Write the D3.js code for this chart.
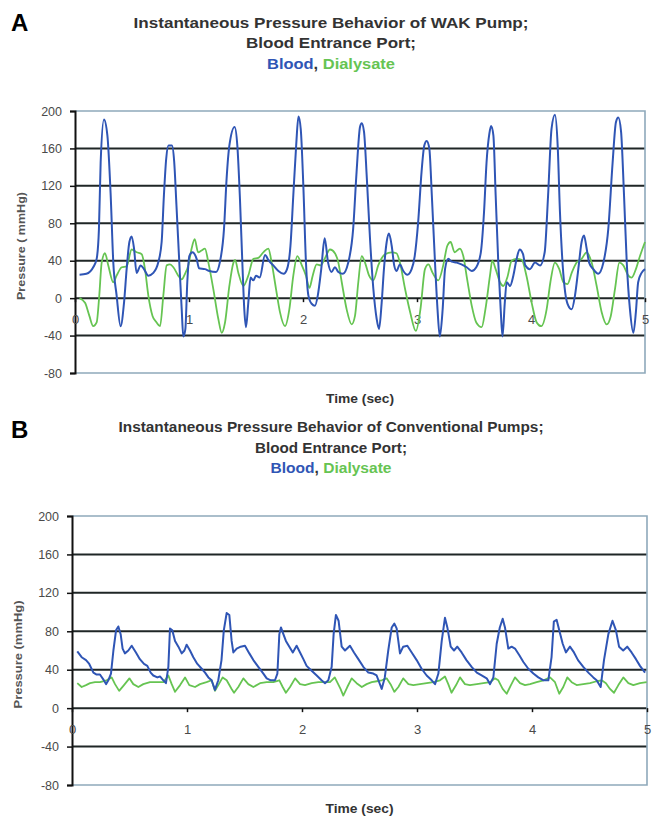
<!DOCTYPE html>
<html>
<head>
<meta charset="utf-8">
<script src="https://cdn.jsdelivr.net/npm/d3@7"></script>
<style>
  body { margin: 0; background: #fff; }
  svg { display: block; font-family: "Liberation Sans", Arial, sans-serif; }
</style>
</head>
<body>
<div id="chart"></div>
<script>
// Pressure traces as [time (s), pressure (mmHg)]
const wakBlood = [
  [0.04,25],[0.10,26],[0.16,33],[0.19,42],[0.21,74],[0.225,145],[0.254,191],[0.284,174],[0.313,110],[0.336,38],
  [0.365,3],[0.40,-30],[0.43,-5],[0.453,31],[0.477,60],[0.497,66],[0.518,53],[0.54,27],[0.576,35],[0.605,31],
  [0.643,24],[0.687,27],[0.73,38],[0.76,60],[0.78,110],[0.80,149],[0.82,163],[0.85,163],[0.87,146],[0.89,99],
  [0.915,38],[0.936,-12],[0.95,-41],[0.968,-33],[0.985,17],[1.003,45],[1.03,49],[1.067,42],[1.088,32],[1.14,31],
  [1.18,29],[1.237,28],[1.27,38],[1.307,74],[1.33,128],[1.354,163],[1.40,183],[1.424,163],[1.447,106],[1.47,31],
  [1.485,-12],[1.50,-31],[1.52,-5],[1.54,22],[1.564,19],[1.588,24],[1.62,22],[1.667,46],[1.70,40],[1.74,35],
  [1.784,29],[1.83,26],[1.86,31],[1.89,56],[1.915,110],[1.94,163],[1.96,194],[1.98,181],[2.003,120],[2.026,38],
  [2.047,3],[2.076,-6],[2.105,-8],[2.13,3],[2.16,31],[2.19,64],[2.22,38],[2.25,28],[2.28,33],[2.31,28],
  [2.35,26],[2.397,38],[2.44,74],[2.47,135],[2.50,183],[2.515,187],[2.535,178],[2.56,128],[2.588,63],[2.617,10],
  [2.646,-22],[2.667,-33],[2.69,-5],[2.71,31],[2.734,60],[2.754,69],[2.778,56],[2.80,35],[2.82,29],[2.85,36],
  [2.88,29],[2.915,25],[2.953,31],[2.98,45],[3.01,81],[3.04,135],[3.064,163],[3.085,168],[3.108,160],[3.13,110],
  [3.158,38],[3.18,-12],[3.20,-41],[3.225,-12],[3.246,31],[3.275,42],[3.304,39],[3.348,38],[3.39,36],[3.436,33],
  [3.48,29],[3.52,33],[3.56,49],[3.588,92],[3.61,145],[3.635,176],[3.65,184],[3.67,174],[3.69,110],[3.713,38],
  [3.734,-12],[3.75,-41],[3.77,-5],[3.787,17],[3.816,13],[3.845,24],[3.874,42],[3.90,52],[3.93,47],[3.95,35],
  [3.99,31],[4.035,38],[4.08,35],[4.12,49],[4.15,110],[4.18,181],[4.21,196],[4.234,163],[4.254,92],[4.278,35],
  [4.30,6],[4.327,-8],[4.357,-12],[4.386,3],[4.415,31],[4.444,60],[4.465,67],[4.488,53],[4.51,38],[4.546,31],
  [4.59,26],[4.635,38],[4.678,74],[4.716,145],[4.745,188],[4.766,193],[4.79,178],[4.816,110],[4.84,38],[4.868,-12],
  [4.898,-37],[4.92,-15],[4.94,17],[4.97,27],[5.0,31]
];

const wakDialysate = [
  [0.04,0],[0.088,-5],[0.126,-19],[0.16,-30],[0.19,-26],[0.213,3],[0.234,38],[0.263,48],[0.292,35],[0.336,17],
  [0.365,24],[0.41,33],[0.453,34],[0.497,52],[0.54,49],[0.585,47],[0.614,31],[0.643,3],[0.68,-19],[0.716,-26],
  [0.746,-30],[0.775,3],[0.804,35],[0.833,36],[0.863,33],[0.906,24],[0.936,20],[0.965,26],[0.994,35],[1.023,53],
  [1.05,63],[1.08,49],[1.11,51],[1.14,53],[1.17,38],[1.213,10],[1.257,-22],[1.287,-37],[1.316,-26],[1.354,13],
  [1.39,38],[1.404,41],[1.433,27],[1.477,13],[1.52,24],[1.565,42],[1.608,43],[1.652,49],[1.696,53],[1.725,38],
  [1.763,10],[1.798,-15],[1.842,-30],[1.88,-12],[1.915,24],[1.95,45],[1.99,35],[2.026,24],[2.056,11],[2.085,24],
  [2.12,36],[2.155,35],[2.19,42],[2.237,52],[2.28,48],[2.31,38],[2.34,17],[2.383,-12],[2.427,-28],[2.456,-19],
  [2.485,17],[2.515,45],[2.544,38],[2.58,24],[2.617,19],[2.66,35],[2.72,47],[2.778,49],[2.82,48],[2.85,38],
  [2.895,10],[2.94,-15],[2.99,-35],[3.03,-12],[3.07,31],[3.10,36],[3.137,27],[3.187,19],[3.23,35],[3.266,56],
  [3.295,60],[3.33,49],[3.376,53],[3.406,45],[3.44,20],[3.48,-8],[3.52,-26],[3.567,-31],[3.60,-12],[3.64,24],
  [3.66,40],[3.69,31],[3.728,17],[3.757,13],[3.792,22],[3.83,40],[3.874,42],[3.918,41],[3.96,24],[4.006,-5],
  [4.05,-26],[4.09,-30],[4.137,-12],[4.17,17],[4.21,38],[4.248,31],[4.284,17],[4.32,15],[4.357,27],[4.40,38],
  [4.444,42],[4.488,49],[4.532,38],[4.576,13],[4.62,-15],[4.664,-28],[4.70,-19],[4.737,10],[4.775,38],[4.81,35],
  [4.854,24],[4.883,22],[4.92,31],[4.956,45],[5.0,60]
];

const convBlood = [
  [0.046,59],[0.084,53],[0.122,50],[0.15,46],[0.186,37],[0.214,35],[0.243,35],[0.272,30],[0.296,25],[0.316,29],
  [0.339,36],[0.36,60],[0.383,81],[0.403,85],[0.423,77],[0.44,62],[0.46,57],[0.49,60],[0.519,65],[0.556,58],
  [0.59,51],[0.626,46],[0.655,44],[0.684,37],[0.707,34],[0.742,32],[0.765,33],[0.794,29],[0.817,26],[0.838,43],
  [0.852,83],[0.872,81],[0.896,70],[0.925,64],[0.954,57],[0.977,60],[0.997,66],[1.026,60],[1.055,53],[1.09,46],
  [1.128,41],[1.157,37],[1.186,32],[1.214,29],[1.243,19],[1.272,29],[1.30,50],[1.32,81],[1.345,99],[1.368,97],
  [1.388,70],[1.403,58],[1.432,62],[1.467,64],[1.504,65],[1.542,57],[1.577,50],[1.62,43],[1.664,36],[1.693,31],
  [1.728,29],[1.765,29],[1.786,36],[1.803,77],[1.817,84],[1.838,77],[1.86,70],[1.89,64],[1.92,58],[1.953,65],
  [1.983,58],[2.012,51],[2.04,44],[2.084,39],[2.128,34],[2.17,29],[2.20,26],[2.229,29],[2.258,43],[2.275,77],
  [2.295,97],[2.318,91],[2.345,64],[2.374,60],[2.417,65],[2.452,58],[2.49,51],[2.533,43],[2.577,37],[2.62,36],
  [2.649,34],[2.693,20],[2.72,32],[2.75,60],[2.78,84],[2.803,88],[2.823,83],[2.852,57],[2.88,64],[2.916,65],
  [2.954,58],[2.997,50],[3.04,41],[3.084,34],[3.128,29],[3.157,25],[3.186,36],[3.215,70],[3.243,94],[3.264,84],
  [3.293,64],[3.322,60],[3.35,64],[3.388,58],[3.43,50],[3.475,43],[3.52,37],[3.562,34],[3.606,31],[3.635,25],
  [3.664,32],[3.693,67],[3.72,84],[3.745,93],[3.765,84],[3.794,62],[3.823,64],[3.852,62],[3.89,55],[3.925,48],
  [3.968,41],[4.012,36],[4.055,32],[4.10,29],[4.142,29],[4.17,53],[4.19,90],[4.214,92],[4.237,81],[4.267,67],
  [4.295,58],[4.33,64],[4.365,58],[4.40,50],[4.446,43],[4.49,37],[4.533,32],[4.562,29],[4.597,22],[4.626,50],
  [4.664,77],[4.70,91],[4.73,81],[4.757,64],[4.793,60],[4.828,64],[4.866,58],[4.904,51],[4.939,44],[4.983,37]
];

const convDialysate = [
  [0.046,26],[0.084,22],[0.122,24],[0.157,26],[0.20,27],[0.243,27],[0.301,29],[0.345,32],[0.374,25],[0.41,18],
  [0.452,24],[0.499,31],[0.533,25],[0.577,22],[0.62,25],[0.678,27],[0.736,27],[0.794,27],[0.838,34],[0.867,25],
  [0.896,17],[0.94,24],[0.983,32],[1.02,24],[1.07,22],[1.113,25],[1.17,27],[1.214,29],[1.243,18],[1.272,24],
  [1.31,32],[1.345,29],[1.388,20],[1.409,16],[1.446,22],[1.49,31],[1.533,25],[1.577,22],[1.635,26],[1.693,27],
  [1.75,27],[1.803,29],[1.832,22],[1.86,16],[1.896,22],[1.94,31],[1.983,25],[2.026,24],[2.084,26],[2.142,27],
  [2.20,27],[2.243,27],[2.285,32],[2.31,26],[2.335,20],[2.359,13],[2.394,22],[2.432,31],[2.475,26],[2.52,22],
  [2.562,25],[2.606,27],[2.65,28],[2.693,29],[2.736,31],[2.774,24],[2.803,17],[2.838,22],[2.88,31],[2.925,25],
  [2.968,24],[3.026,25],[3.084,26],[3.142,27],[3.20,29],[3.243,33],[3.272,25],[3.30,16],[3.34,24],[3.374,32],
  [3.417,25],[3.46,24],[3.52,25],[3.577,26],[3.635,27],[3.678,31],[3.707,29],[3.745,20],[3.78,15],[3.817,24],
  [3.852,32],[3.896,26],[3.939,24],[3.983,25],[4.04,27],[4.10,29],[4.157,32],[4.20,27],[4.237,15],[4.272,22],
  [4.307,32],[4.345,27],[4.388,24],[4.446,25],[4.504,26],[4.562,28],[4.606,29],[4.643,26],[4.678,20],[4.713,16],
  [4.751,24],[4.794,32],[4.838,26],[4.881,24],[4.939,26],[4.997,27]
];

const yTicks = [-80, -40, 0, 40, 80, 120, 160, 200];
const xTicks = [0, 1, 2, 3, 4, 5];

const blue = '#2f55b5';
const green = '#66c452';

const svg = d3.select('#chart')
  .append('svg')
  .attr('width', 660)
  .attr('height', 816);

function drawPanel(p) {
  const x = d3.scaleLinear().domain([0, 5]).range([p.left, p.right]);
  const y = d3.scaleLinear().domain([-80, 200]).range([p.bottom, p.top]);
  const g = svg.append('g');

  // panel letter
  g.append('text')
    .attr('x', 11)
    .attr('y', p.letterY)
    .style('font-size', '24px')
    .style('font-weight', 'bold')
    .style('fill', '#000')
    .text(p.letter);

  // title, three lines
  const tc = 331;
  p.titles.forEach((t, i) => {
    g.append('text')
      .attr('x', tc)
      .attr('y', p.titleY + i * 20.5)
      .attr('text-anchor', 'middle')
      .attr('textLength', p.titleW[i])
      .attr('lengthAdjust', 'spacingAndGlyphs')
      .style('font-size', p.titleSize + 'px')
      .style('font-weight', 'bold')
      .style('fill', '#333')
      .text(t);
  });
  const leg = g.append('text')
    .attr('x', tc)
    .attr('y', p.titleY + 41)
    .attr('text-anchor', 'middle')
    .attr('textLength', p.titleW[2])
    .attr('lengthAdjust', 'spacingAndGlyphs')
    .style('font-size', p.titleSize + 'px')
    .style('font-weight', 'bold');
  leg.append('tspan').style('fill', blue).text('Blood');
  leg.append('tspan').style('fill', '#333').text(', ');
  leg.append('tspan').style('fill', green).text('Dialysate');

  // horizontal grid lines
  g.selectAll('.grid')
    .data(yTicks.filter(d => d > -80 && d < 200))
    .enter()
    .append('line')
    .attr('x1', p.left)
    .attr('x2', p.right)
    .attr('y1', d => y(d))
    .attr('y2', d => y(d))
    .attr('stroke', '#1f2626')
    .attr('stroke-width', 2);

  // plot frame (top, right, bottom)
  g.append('path')
    .attr('d', `M${p.left},${y(200)}H${p.right}V${y(-80)}H${p.left}`)
    .attr('fill', 'none')
    .attr('stroke', '#8ea9bb')
    .attr('stroke-width', 1.6);

  // y axis
  const yAxis = g.append('g')
    .attr('transform', `translate(${p.left},0)`)
    .call(d3.axisLeft(y).tickValues(yTicks).tickSize(5).tickPadding(8).tickFormat(d => String(d)));
  yAxis.select('.domain').attr('stroke', '#111').attr('stroke-width', 2);
  yAxis.selectAll('.tick line').attr('stroke', '#111').attr('stroke-width', 1.5);
  yAxis.selectAll('text')
    .style('font-size', '12.5px')
    .style('font-family', '"Liberation Sans", Arial, sans-serif')
    .style('fill', '#4a4a4a');

  // x axis crossing at zero
  const xAxis = g.append('g')
    .attr('transform', `translate(0,${y(0)})`)
    .call(d3.axisBottom(x).tickValues(xTicks).tickSize(4).tickPadding(13).tickFormat(d => String(d)));
  xAxis.select('.domain').remove();
  xAxis.selectAll('.tick line').attr('stroke', '#111').attr('stroke-width', 1.5);
  xAxis.selectAll('text')
    .style('font-size', '13px')
    .style('font-family', '"Liberation Sans", Arial, sans-serif')
    .style('fill', '#4a4a4a');

  // axis titles
  g.append('text')
    .attr('transform', `translate(${p.yTitleX},${(y(200) + y(-80)) / 2 + 4}) rotate(-90)`)
    .attr('text-anchor', 'middle')
    .attr('textLength', 108)
    .attr('lengthAdjust', 'spacingAndGlyphs')
    .style('font-size', '11px')
    .style('font-weight', 'bold')
    .style('fill', '#555')
    .text(p.yTitle);

  g.append('text')
    .attr('x', (p.left + p.right) / 2)
    .attr('y', p.xTitleY)
    .attr('text-anchor', 'middle')
    .attr('textLength', 68)
    .attr('lengthAdjust', 'spacingAndGlyphs')
    .style('font-size', '13px')
    .style('font-weight', 'bold')
    .style('fill', '#333')
    .text('Time (sec)');

  // traces
  const line = d3.line()
    .x(d => x(d[0]))
    .y(d => y(d[1]))
    .curve(p.curve);

  g.append('path')
    .datum(p.dialysate)
    .attr('d', line)
    .attr('fill', 'none')
    .attr('stroke', green)
    .attr('stroke-width', 1.8)
    .attr('stroke-linejoin', 'round');

  g.append('path')
    .datum(p.blood)
    .attr('d', line)
    .attr('fill', 'none')
    .attr('stroke', blue)
    .attr('stroke-width', 2)
    .attr('stroke-linejoin', 'round');
}

drawPanel({
  letter: 'A', letterY: 31,
  titles: ['Instantaneous Pressure Behavior of WAK Pump;', 'Blood Entrance Port;'],
  titleW: [395, 170, 128], titleSize: 15, titleY: 27.5,
  left: 75, right: 645, top: 111, bottom: 373,
  yTitle: 'Pressure ( mmHg)', yTitleX: 25, xTitleY: 402.5,
  blood: wakBlood, dialysate: wakDialysate, curve: d3.curveMonotoneX
});

drawPanel({
  letter: 'B', letterY: 438,
  titles: ['Instantaneous Pressure Behavior of Conventional Pumps;', 'Blood Entrance Port;'],
  titleW: [425, 152, 121], titleSize: 14, titleY: 432,
  left: 72, right: 647, top: 516, bottom: 785,
  yTitle: 'Pressure (mmHg)', yTitleX: 22, xTitleY: 812.5,
  blood: convBlood, dialysate: convDialysate, curve: d3.curveLinear
});
</script>
</body>
</html>
